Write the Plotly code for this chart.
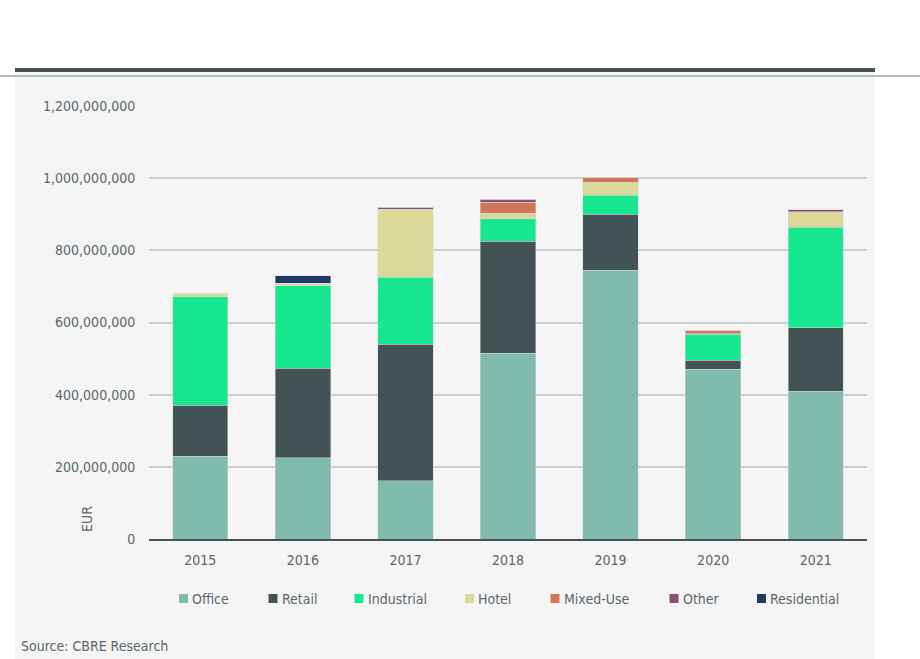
import plotly.graph_objects as go

years = ["2015", "2016", "2017", "2018", "2019", "2020", "2021"]
office = [230_000_000, 225_000_000, 161_000_000, 515_000_000, 745_000_000, 471_000_000, 409_000_000]
retail = [141_000_000, 248_000_000, 379_000_000, 310_000_000, 155_000_000, 25_000_000, 177_000_000]
industrial = [300_000_000, 229_000_000, 186_000_000, 62_000_000, 53_000_000, 71_000_000, 278_000_000]
hotel = [8_000_000, 7_000_000, 188_000_000, 16_000_000, 36_000_000, 2_000_000, 43_000_000]
mixed_use = [0, 0, 0, 30_000_000, 14_000_000, 10_000_000, 0]
other = [0, 0, 5_000_000, 8_000_000, 0, 0, 6_000_000]
residential = [0, 20_000_000, 0, 0, 0, 0, 0]

series_names = ["Office", "Retail", "Industrial", "Hotel", "Mixed-Use", "Other", "Residential"]
series_values = [office, retail, industrial, hotel, mixed_use, other, residential]
colors = ["#80bbad", "#435254", "#17e88f", "#dbd99a", "#d2785a", "#885073", "#1f3765"]

y_ticks = [0, 200_000_000, 400_000_000, 600_000_000, 800_000_000, 1_000_000_000, 1_200_000_000]

FONT = "DejaVu Sans Condensed, Roboto, sans-serif"
FS = 14
TXT = "#5a676c"

W, H = 920, 659
L, R, T, B = 149, 867, 106, 539  # plot area in pixels


def px(x):
    return (x - L) / (R - L)


def py(y):
    return (B - y) / (B - T)


fig = go.Figure()
for name, vals, col in zip(series_names, series_values, colors):
    fig.add_trace(go.Bar(
        x=years, y=vals, name=name, showlegend=False,
        marker=dict(color=col, line=dict(width=0.6, color="rgba(215,215,215,0.8)")),
    ))

shapes = [
    dict(type="rect", xref="paper", yref="paper", x0=px(15), x1=px(875), y0=py(72), y1=py(H),
         fillcolor="#f5f5f5", line=dict(width=0), layer="below"),
    dict(type="rect", xref="paper", yref="paper", x0=px(15), x1=px(875), y0=py(72), y1=py(68),
         fillcolor="#435254", line=dict(width=0), layer="below"),
    dict(type="line", xref="paper", yref="paper", x0=px(0), x1=px(W), y0=py(76), y1=py(76),
         line=dict(color="#b8b8b8", width=2), layer="above"),
]

annotations = [
    dict(text="EUR", xref="paper", yref="paper", x=px(87), y=py(519), textangle=-90,
         showarrow=False, font=dict(family=FONT, size=FS, color=TXT), xanchor="center", yanchor="middle"),
    dict(text="Source: CBRE Research", xref="paper", yref="paper", x=px(19), y=py(646),
         showarrow=False, font=dict(family=FONT, size=FS, color=TXT), xanchor="left", yanchor="middle"),
]

legend_x = [179, 268.5, 354.5, 465, 550.5, 669.5, 757]
for name, col, lx in zip(series_names, colors, legend_x):
    shapes.append(dict(type="rect", xref="paper", yref="paper", x0=px(lx), x1=px(lx + 9),
                       y0=py(603), y1=py(594), fillcolor=col, line=dict(width=0)))
    annotations.append(dict(text=name, xref="paper", yref="paper", x=px(lx + 11), y=py(598.5),
                            showarrow=False, xanchor="left", yanchor="middle",
                            font=dict(family=FONT, size=FS, color=TXT)))

fig.update_layout(
    barmode="stack",
    bargap=0.46,
    width=W, height=H,
    margin=dict(l=L, r=W - R, t=T, b=H - B, pad=0),
    paper_bgcolor="white",
    plot_bgcolor="rgba(0,0,0,0)",
    font=dict(family=FONT, size=FS, color=TXT),
    shapes=shapes,
    annotations=annotations,
    showlegend=False,
    xaxis=dict(showgrid=False, showline=True, linecolor="#435254", linewidth=1.5,
               ticks="outside", ticklen=7, tickcolor="rgba(0,0,0,0)",
               tickfont=dict(family=FONT, size=FS, color=TXT)),
    yaxis=dict(range=[0, 1_200_000_000], tickvals=y_ticks, tickformat=",d",
               showgrid=True, gridcolor="#c9d1d1", gridwidth=2, zeroline=False,
               ticks="outside", ticklen=10, tickcolor="rgba(0,0,0,0)",
               tickfont=dict(family=FONT, size=FS, color=TXT)),
)

fig.write_html("out.html")
